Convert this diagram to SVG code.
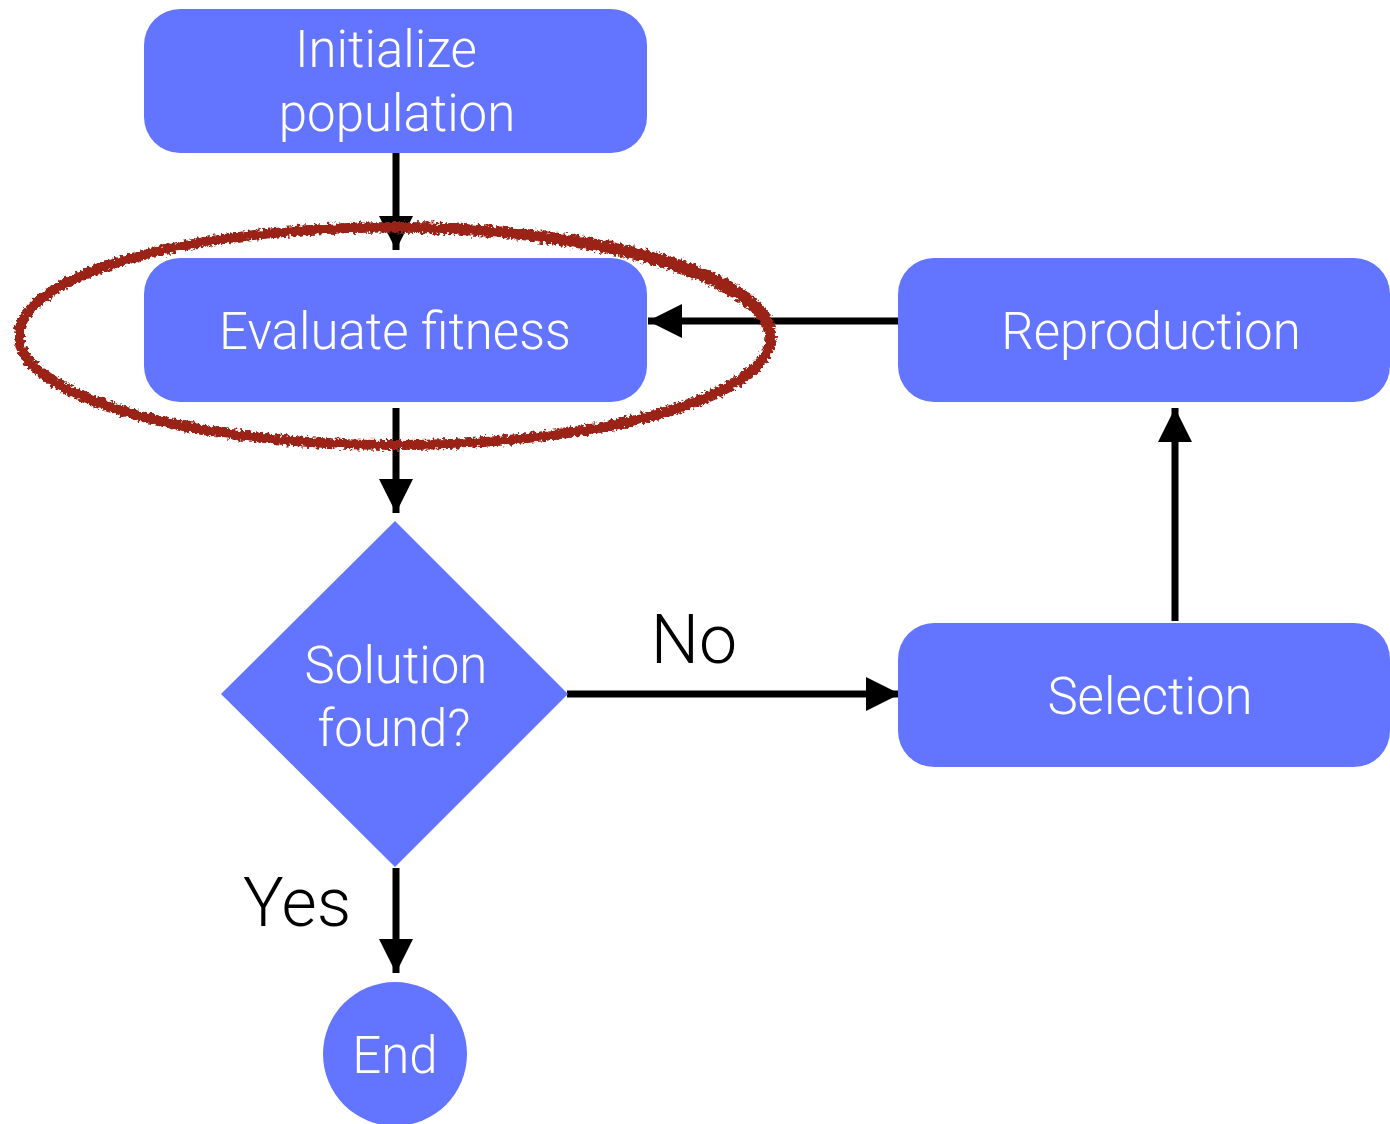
<svg xmlns="http://www.w3.org/2000/svg" width="1390" height="1124" viewBox="0 0 1390 1124">
  <style>
    .node { fill: #6375FF; }
    .label { font-family: Roboto, "Liberation Sans", Arial, sans-serif; font-weight: 300; font-size: 51px; fill: #FFFFFF; text-anchor: middle; }
    .edge-label { font-family: Roboto, "Liberation Sans", Arial, sans-serif; font-weight: 300; font-size: 68px; fill: #000000; text-anchor: middle; }
    .edge { stroke: #000000; stroke-width: 7; fill: none; }
  </style>
  <defs>
    <marker id="arrow" viewBox="0 0 10 10" refX="10" refY="5" markerUnits="userSpaceOnUse" markerWidth="34" markerHeight="34" orient="auto">
      <path d="M0,0 L10,5 L0,10 Z" fill="#000000"/>
    </marker>
    <filter id="rough" x="-10%" y="-20%" width="120%" height="140%">
      <feTurbulence type="fractalNoise" baseFrequency="0.3" numOctaves="3" seed="4" result="noise"/>
      <feDisplacementMap in="SourceGraphic" in2="noise" scale="8" xChannelSelector="R" yChannelSelector="G"/>
    </filter>
  </defs>
  <rect width="1390" height="1124" fill="#FFFFFF"/>

  <g id="connectors">
    <line class="edge" x1="396" y1="153" x2="396" y2="250" marker-end="url(#arrow)"/>
    <line class="edge" x1="396" y1="408" x2="396" y2="513" marker-end="url(#arrow)"/>
    <line class="edge" x1="396" y1="868" x2="396" y2="973" marker-end="url(#arrow)"/>
    <line class="edge" x1="567" y1="694" x2="900" y2="694" marker-end="url(#arrow)"/>
    <line class="edge" x1="1175" y1="621" x2="1175" y2="408" marker-end="url(#arrow)"/>
    <line class="edge" x1="898" y1="321" x2="648" y2="321" marker-end="url(#arrow)"/>
    <text class="edge-label" x="694" y="663">No</text>
    <text class="edge-label" x="297" y="926">Yes</text>
  </g>

  <g id="init">
    <rect class="node" x="144" y="9" width="503" height="144" rx="36"/>
    <text class="label" x="386" y="67">Initialize</text>
    <text class="label" x="397" y="131">population</text>
  </g>

  <g id="evaluate">
    <rect class="node" x="144" y="258" width="503" height="144" rx="36"/>
    <text class="label" x="395" y="349">Evaluate fitness</text>
  </g>

  <g id="reproduction">
    <rect class="node" x="898" y="258" width="492" height="144" rx="36"/>
    <text class="label" x="1151" y="349">Reproduction</text>
  </g>

  <g id="selection">
    <rect class="node" x="898" y="623" width="492" height="144" rx="36"/>
    <text class="label" x="1150" y="714">Selection</text>
  </g>

  <g id="decision">
    <polygon class="node" points="395,521 568,694 395,867 221,694"/>
    <text class="label" x="396" y="683">Solution</text>
    <text class="label" x="394" y="746">found?</text>
  </g>

  <g id="end">
    <circle class="node" cx="395" cy="1054" r="72"/>
    <text class="label" x="395" y="1073">End</text>
  </g>

  <!-- hand-drawn highlight around the fitness step -->
  <g id="highlight" filter="url(#rough)" fill="none" stroke="#9B2318">
    <ellipse cx="395" cy="336" rx="376" ry="109" stroke-width="10"/>
    <ellipse cx="394" cy="337" rx="375" ry="108" stroke-width="7" transform="rotate(0.6 395 337)"/>
  </g>
</svg>
